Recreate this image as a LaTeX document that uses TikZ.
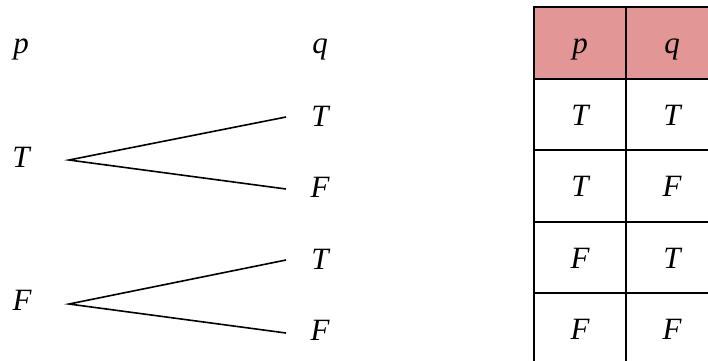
\documentclass[tikz,border=0pt]{standalone}
\usepackage{fontspec}
\setmainfont{Liberation Serif}[ItalicFont={Liberation Serif Italic}]
\newfontfamily\timesit{Liberation Serif Italic}
\definecolor{headfill}{RGB}{226,150,150}
\newcommand{\lblfont}{\fontsize{31}{36}\selectfont\timesit}
\tikzset{
  lbl/.style={font=\lblfont, inner sep=0pt, anchor=base},
  branch/.style={line width=1.6pt},
  cell/.style={draw, line width=2pt, minimum width=92pt, minimum height=71.5pt, inner sep=0pt,
               font=\lblfont, text height=21pt, text depth=0pt},
  headcell/.style={cell, fill=headfill}
}
\begin{document}
\begin{tikzpicture}[x=1pt,y=-1pt]
\clip (0,0) rectangle (708,360);
% tree labels
\node[lbl] (p)  at (21,53)  {p};
\node[lbl] (q)  at (320,53) {q};
\node[lbl] (pT) at (21,167) {T};
\node[lbl] (pF) at (22,310) {F};
\node[lbl] (qT1) at (320,126) {T};
\node[lbl] (qF1) at (320,197) {F};
\node[lbl] (qT2) at (320,269) {T};
\node[lbl] (qF2) at (320,340) {F};
% branch points
\coordinate (sT) at (69,160);
\coordinate (sF) at (69,304);
\coordinate (eT1) at (286,117);
\coordinate (eF1) at (286,189);
\coordinate (eT2) at (286,260);
\coordinate (eF2) at (286,333);
\draw[branch] (eT1) -- (sT) -- (eF1);
\draw[branch] (eT2) -- (sF) -- (eF2);
% truth table
\node[headcell] (h1) at (580,43) {p};
\node[headcell] (h2) at (672,43) {q};
\node[cell] (r11) at (580,114.5) {T};
\node[cell] (r12) at (672,114.5) {T};
\node[cell] (r21) at (580,186) {T};
\node[cell] (r22) at (672,186) {F};
\node[cell] (r31) at (580,257.5) {F};
\node[cell] (r32) at (672,257.5) {T};
\node[cell] (r41) at (580,329) {F};
\node[cell] (r42) at (672,329) {F};
\end{tikzpicture}
\end{document}
